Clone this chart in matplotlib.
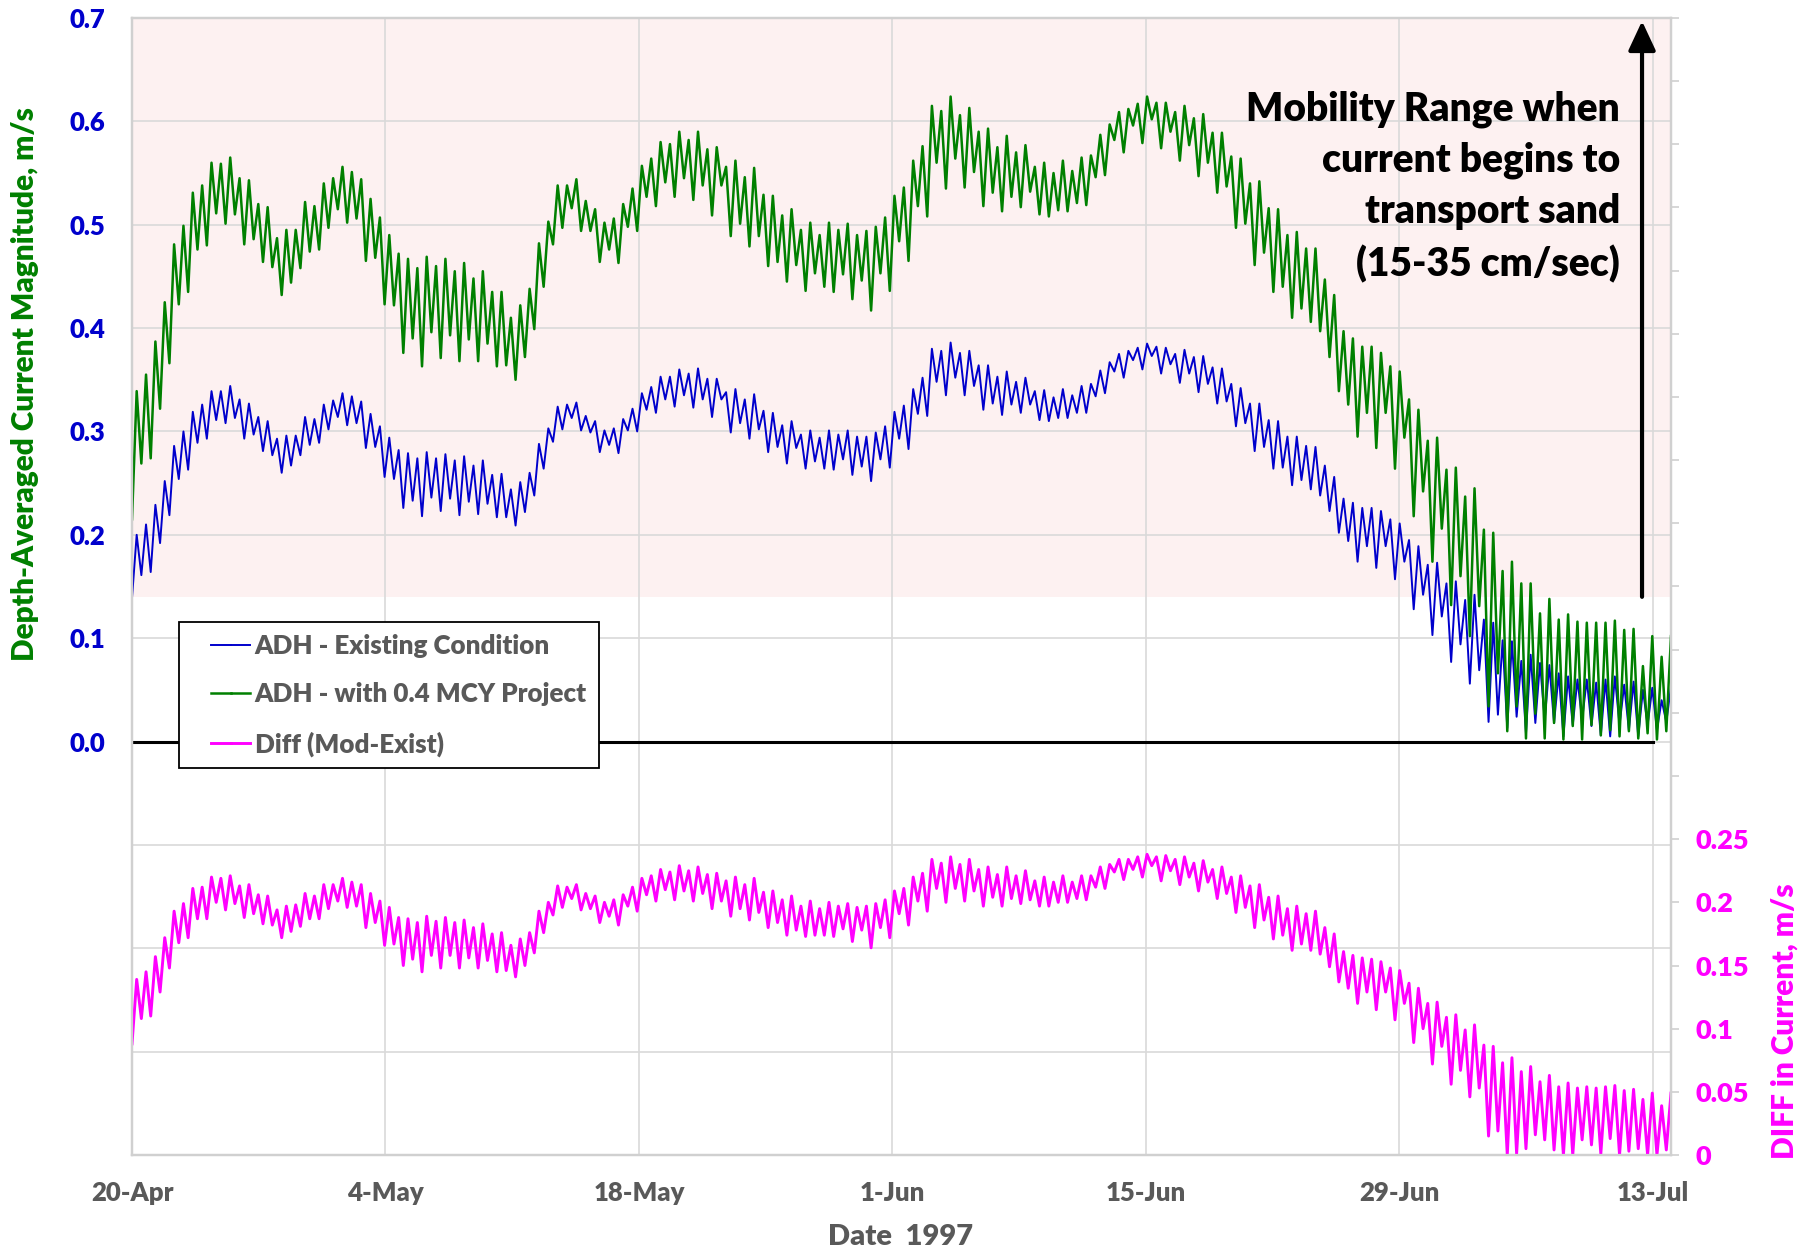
import numpy as np
import matplotlib
matplotlib.use('Agg')
import matplotlib.pyplot as plt
import matplotlib.dates as mdates
from matplotlib.lines import Line2D
from matplotlib.legend_handler import HandlerTuple
from matplotlib.ticker import FuncFormatter, MultipleLocator

plt.rcParams['font.family'] = ['Lato', 'DejaVu Sans']
plt.rcParams['font.weight'] = 'heavy'

# time span of the record (values are successive tidal peaks / troughs)
start = np.datetime64('1997-04-20T00:00')
end = np.datetime64('1997-07-14T00:00')
tick_dates = ['1997-04-20', '1997-05-04', '1997-05-18', '1997-06-01',
              '1997-06-15', '1997-06-29', '1997-07-13']
zero_line_end = '1997-07-13'

labels = ['ADH - Existing Condition', 'ADH - with 0.4 MCY Project', 'Diff (Mod-Exist)']

# ADH - Existing Condition, m/s
existing = [
    0.139, 0.200, 0.161, 0.210, 0.164, 0.229, 0.192, 0.252, 0.219, 0.286,
    0.254, 0.300, 0.263, 0.319, 0.289, 0.326, 0.293, 0.339, 0.311, 0.339,
    0.308, 0.344, 0.313, 0.331, 0.293, 0.327, 0.297, 0.314, 0.281, 0.310,
    0.277, 0.293, 0.260, 0.296, 0.267, 0.296, 0.277, 0.314, 0.287, 0.312,
    0.289, 0.326, 0.302, 0.330, 0.314, 0.337, 0.306, 0.334, 0.308, 0.329,
    0.284, 0.317, 0.285, 0.305, 0.256, 0.294, 0.254, 0.282, 0.226, 0.279,
    0.233, 0.274, 0.218, 0.280, 0.236, 0.274, 0.223, 0.278, 0.235, 0.272,
    0.219, 0.276, 0.232, 0.267, 0.220, 0.272, 0.230, 0.258, 0.217, 0.259,
    0.217, 0.244, 0.209, 0.251,
    0.222, 0.260, 0.238, 0.288, 0.264, 0.303, 0.290, 0.324, 0.302, 0.326,
    0.313, 0.328, 0.301, 0.315, 0.299, 0.310, 0.280, 0.301, 0.287, 0.303,
    0.279, 0.312, 0.301, 0.322, 0.300, 0.337, 0.321, 0.343, 0.318, 0.353,
    0.331, 0.353, 0.324, 0.360, 0.335, 0.356, 0.323, 0.361, 0.331, 0.351,
    0.314, 0.351, 0.331, 0.338, 0.299, 0.341, 0.308, 0.331, 0.293, 0.336,
    0.302, 0.320, 0.280, 0.318, 0.285, 0.306, 0.269, 0.310, 0.284, 0.297,
    0.264, 0.301, 0.271, 0.294, 0.264, 0.301, 0.263, 0.297, 0.273, 0.301,
    0.258, 0.295, 0.266, 0.295, 0.252, 0.299, 0.273, 0.305, 0.265, 0.319,
    0.293, 0.325, 0.283, 0.341,
    0.317, 0.352, 0.315, 0.380, 0.348, 0.378, 0.335, 0.386, 0.352, 0.376,
    0.335, 0.378, 0.344, 0.364, 0.321, 0.364, 0.327, 0.353, 0.316, 0.358,
    0.326, 0.348, 0.318, 0.352, 0.326, 0.339, 0.311, 0.340, 0.310, 0.333,
    0.313, 0.341, 0.313, 0.335, 0.318, 0.344, 0.318, 0.346, 0.334, 0.359,
    0.337, 0.367, 0.358, 0.375, 0.352, 0.378, 0.369, 0.381, 0.360, 0.385,
    0.373, 0.382, 0.356, 0.381, 0.365, 0.375, 0.347, 0.379, 0.356, 0.372,
    0.338, 0.373, 0.346, 0.362, 0.327, 0.361, 0.329, 0.346, 0.305, 0.342,
    0.308, 0.327, 0.281, 0.327, 0.285, 0.311, 0.264, 0.310, 0.265, 0.295,
    0.248, 0.295, 0.253, 0.286,
    0.244, 0.285, 0.238, 0.267, 0.223, 0.256, 0.202, 0.235, 0.194, 0.231,
    0.174, 0.226, 0.189, 0.226, 0.168, 0.223, 0.189, 0.215, 0.157, 0.211,
    0.174, 0.195, 0.128, 0.189, 0.142, 0.171, 0.103, 0.173, 0.121, 0.153,
    0.077, 0.155, 0.094, 0.137, 0.056, 0.142, 0.069, 0.118, 0.019, 0.115,
    0.026, 0.098, 0.013, 0.097, 0.024, 0.078, 0.008, 0.084, 0.018, 0.076,
    0.021, 0.074, 0.018, 0.066, 0.005, 0.063, 0.016, 0.060, 0.021, 0.060,
    0.015, 0.057, 0.006, 0.060, 0.005, 0.063, 0.016, 0.055, 0.011, 0.058,
    0.005, 0.050, 0.016, 0.052, 0.011, 0.040, 0.019, 0.053,
]

# ADH - with 0.4 MCY Project, m/s
project = [
    0.215, 0.339, 0.269, 0.355, 0.274, 0.387, 0.322, 0.425, 0.366, 0.481,
    0.423, 0.499, 0.435, 0.531, 0.476, 0.538, 0.480, 0.560, 0.511, 0.559,
    0.501, 0.565, 0.510, 0.545, 0.481, 0.543, 0.486, 0.520, 0.464, 0.517,
    0.459, 0.487, 0.432, 0.495, 0.444, 0.495, 0.458, 0.522, 0.474, 0.518,
    0.476, 0.540, 0.497, 0.545, 0.515, 0.556, 0.502, 0.551, 0.506, 0.544,
    0.465, 0.525, 0.468, 0.507, 0.423, 0.490, 0.422, 0.472, 0.376, 0.467,
    0.390, 0.458, 0.363, 0.469, 0.396, 0.460, 0.371, 0.467, 0.393, 0.455,
    0.368, 0.463, 0.389, 0.448, 0.368, 0.455, 0.385, 0.435, 0.363, 0.435,
    0.364, 0.410, 0.350, 0.422,
    0.372, 0.438, 0.399, 0.482, 0.440, 0.503, 0.481, 0.538, 0.497, 0.538,
    0.516, 0.544, 0.494, 0.523, 0.494, 0.515, 0.464, 0.502, 0.476, 0.506,
    0.463, 0.520, 0.498, 0.535, 0.494, 0.557, 0.527, 0.564, 0.518, 0.580,
    0.541, 0.578, 0.527, 0.590, 0.545, 0.582, 0.524, 0.590, 0.538, 0.573,
    0.509, 0.575, 0.538, 0.556, 0.489, 0.562, 0.501, 0.546, 0.479, 0.555,
    0.489, 0.529, 0.460, 0.528, 0.464, 0.509, 0.445, 0.515, 0.461, 0.495,
    0.436, 0.502, 0.453, 0.490, 0.440, 0.502, 0.435, 0.495, 0.452, 0.501,
    0.428, 0.490, 0.446, 0.494, 0.417, 0.498, 0.453, 0.507, 0.436, 0.528,
    0.484, 0.536, 0.465, 0.562,
    0.518, 0.576, 0.508, 0.615, 0.560, 0.610, 0.535, 0.624, 0.564, 0.606,
    0.536, 0.613, 0.551, 0.590, 0.518, 0.593, 0.531, 0.575, 0.513, 0.586,
    0.527, 0.570, 0.517, 0.577, 0.532, 0.556, 0.510, 0.560, 0.508, 0.550,
    0.514, 0.562, 0.513, 0.552, 0.521, 0.565, 0.519, 0.567, 0.546, 0.587,
    0.548, 0.597, 0.582, 0.609, 0.570, 0.612, 0.596, 0.617, 0.579, 0.624,
    0.602, 0.618, 0.574, 0.618, 0.590, 0.609, 0.562, 0.615, 0.577, 0.603,
    0.547, 0.607, 0.560, 0.589, 0.531, 0.589, 0.537, 0.566, 0.497, 0.564,
    0.501, 0.540, 0.461, 0.542, 0.473, 0.516, 0.435, 0.515, 0.440, 0.490,
    0.410, 0.493, 0.419, 0.477,
    0.406, 0.477, 0.397, 0.447, 0.372, 0.432, 0.339, 0.397, 0.326, 0.390,
    0.295, 0.382, 0.318, 0.382, 0.284, 0.376, 0.318, 0.363, 0.264, 0.358,
    0.294, 0.331, 0.218, 0.321, 0.242, 0.291, 0.174, 0.294, 0.206, 0.263,
    0.132, 0.265, 0.160, 0.237, 0.102, 0.245, 0.131, 0.205, 0.034, 0.202,
    0.066, 0.165, 0.010, 0.174, 0.034, 0.153, 0.003, 0.153, 0.027, 0.124,
    0.003, 0.138, 0.018, 0.118, 0.002, 0.123, 0.015, 0.116, 0.002, 0.115,
    0.016, 0.115, 0.006, 0.115, 0.011, 0.117, 0.005, 0.108, 0.010, 0.109,
    0.003, 0.073, 0.008, 0.102, 0.002, 0.082, 0.010, 0.102,
]

# Diff (Mod-Exist), m/s, right axis
diff = [
    0.088, 0.139, 0.108, 0.145, 0.110, 0.157, 0.129, 0.172, 0.148, 0.193,
    0.168, 0.199, 0.172, 0.211, 0.187, 0.212, 0.187, 0.220, 0.200, 0.219,
    0.194, 0.221, 0.199, 0.213, 0.188, 0.214, 0.191, 0.206, 0.183, 0.205,
    0.182, 0.194, 0.172, 0.197, 0.177, 0.198, 0.181, 0.207, 0.187, 0.205,
    0.187, 0.214, 0.195, 0.214, 0.201, 0.219, 0.196, 0.216, 0.197, 0.214,
    0.180, 0.207, 0.184, 0.201, 0.166, 0.196, 0.167, 0.188, 0.150, 0.187,
    0.155, 0.184, 0.145, 0.189, 0.158, 0.185, 0.148, 0.188, 0.158, 0.184,
    0.148, 0.186, 0.156, 0.180, 0.148, 0.183, 0.154, 0.175, 0.145, 0.176,
    0.146, 0.166, 0.141, 0.171,
    0.150, 0.176, 0.160, 0.193, 0.176, 0.200, 0.190, 0.213, 0.196, 0.212,
    0.203, 0.214, 0.194, 0.207, 0.195, 0.205, 0.184, 0.200, 0.189, 0.202,
    0.182, 0.206, 0.197, 0.212, 0.193, 0.219, 0.206, 0.221, 0.201, 0.226,
    0.210, 0.224, 0.202, 0.229, 0.209, 0.225, 0.201, 0.228, 0.207, 0.222,
    0.195, 0.223, 0.201, 0.217, 0.189, 0.220, 0.195, 0.214, 0.186, 0.219,
    0.192, 0.208, 0.180, 0.209, 0.184, 0.202, 0.174, 0.205, 0.178, 0.197,
    0.173, 0.201, 0.174, 0.195, 0.174, 0.200, 0.173, 0.197, 0.179, 0.199,
    0.169, 0.196, 0.178, 0.197, 0.164, 0.199, 0.180, 0.202, 0.172, 0.209,
    0.191, 0.211, 0.182, 0.220,
    0.201, 0.223, 0.193, 0.234, 0.211, 0.231, 0.200, 0.236, 0.211, 0.230,
    0.201, 0.234, 0.209, 0.226, 0.197, 0.228, 0.204, 0.222, 0.197, 0.228,
    0.203, 0.221, 0.199, 0.225, 0.202, 0.217, 0.197, 0.220, 0.197, 0.216,
    0.200, 0.221, 0.200, 0.216, 0.203, 0.221, 0.202, 0.221, 0.212, 0.228,
    0.211, 0.230, 0.224, 0.234, 0.218, 0.234, 0.226, 0.236, 0.220, 0.238,
    0.229, 0.236, 0.217, 0.237, 0.225, 0.234, 0.214, 0.236, 0.220, 0.231,
    0.209, 0.233, 0.216, 0.226, 0.203, 0.228, 0.207, 0.220, 0.192, 0.221,
    0.196, 0.213, 0.180, 0.214, 0.186, 0.204, 0.171, 0.205, 0.174, 0.195,
    0.162, 0.197, 0.167, 0.191,
    0.162, 0.193, 0.159, 0.180, 0.149, 0.175, 0.137, 0.161, 0.132, 0.158,
    0.120, 0.156, 0.129, 0.155, 0.115, 0.153, 0.129, 0.148, 0.107, 0.146,
    0.120, 0.136, 0.089, 0.132, 0.100, 0.120, 0.072, 0.121, 0.086, 0.109,
    0.056, 0.111, 0.067, 0.099, 0.046, 0.103, 0.053, 0.087, 0.015, 0.086,
    0.019, 0.073, 0.000, 0.077, 0.001, 0.066, 0.005, 0.070, 0.016, 0.058,
    0.012, 0.063, 0.004, 0.054, 0.000, 0.057, 0.000, 0.053, 0.012, 0.054,
    0.008, 0.053, 0.001, 0.054, 0.013, 0.055, 0.000, 0.051, 0.003, 0.052,
    0.005, 0.044, 0.000, 0.049, 0.000, 0.039, 0.004, 0.049,
]

mobility_low = 0.14
mobility_high = 0.70


def times(n):
    # evenly spaced half-tide steps over the record
    minutes = (end - start) / np.timedelta64(1, 'm')
    return start + np.linspace(0, minutes, n).astype('timedelta64[m]')


c_blue = '#0000CC'
c_green = '#008000'
c_mag = '#FF00FF'
c_gray = '#595959'
c_frame = '#D0D0D0'

fig = plt.figure(figsize=(18.14, 12.52), dpi=100)
ax = fig.add_axes([132 / 1814, 97 / 1252, 1539 / 1814, 1137 / 1252])

ax.axhspan(mobility_low, mobility_high, color='#FDF1F1', lw=0, zorder=0)
l_exist, = ax.plot(times(len(existing)), existing, color=c_blue, lw=1.4, zorder=3)
l_proj, = ax.plot(times(len(project)), project, color=c_green, lw=1.8, zorder=3)
ax.plot([start, np.datetime64(zero_line_end)], [0, 0], color='black', lw=2.2, zorder=2)

ax.set_xlim(start, end)
ax.set_ylim(-0.4, 0.7)
ax.yaxis.set_major_locator(MultipleLocator(0.1))
ax.yaxis.set_major_formatter(FuncFormatter(lambda v, p: f'{abs(v):.1f}' if v > -0.05 else ''))
ax.set_xticks(mdates.date2num(np.array(tick_dates, dtype='datetime64[D]')))
ax.xaxis.set_major_formatter(mdates.DateFormatter('%-d-%b'))
ax.grid(True, color='#D9D9D9', lw=1.2)
ax.set_axisbelow(True)
ax.tick_params(axis='y', length=0, pad=19, labelcolor=c_blue, labelsize=18.5)
ax.tick_params(axis='x', length=0, pad=19, labelcolor=c_gray, labelsize=18.5)

ax2 = ax.twinx()
l_diff, = ax2.plot(times(len(diff)), diff, color=c_mag, lw=2.1)
ax2.set_ylim(0, 0.9)
ax2.yaxis.set_major_locator(MultipleLocator(0.05))
ax2.yaxis.set_major_formatter(FuncFormatter(
    lambda v, p: '0' if abs(v) < 1e-6 else (f'{v:g}' if v < 0.26 else '')))
ax2.tick_params(axis='y', length=6, width=1.2, color=c_frame, direction='out',
                pad=12, labelcolor=c_mag, labelsize=19.5)

for a in (ax, ax2):
    for s in a.spines.values():
        s.set_color(c_frame)
        s.set_linewidth(1.6)

# mobility range annotation
x0 = mdates.date2num(start)
ax.annotate('', xy=(x0 + 83.4, 0.697), xytext=(x0 + 83.4, mobility_low),
            arrowprops=dict(arrowstyle='-|>,head_length=0.6,head_width=0.28',
                            mutation_scale=30, lw=3, color='black',
                            shrinkA=0, shrinkB=0), zorder=5)
fig.text(1620 / 1814, 1 - 90 / 1252,
         'Mobility Range when\ncurrent begins to\ntransport sand\n(15-35 cm/sec)',
         ha='right', va='top', multialignment='right', fontsize=28.1,
         color='black', linespacing=1.47)

# legend with a blank lead-in before each line sample
blank = Line2D([], [], color='none')
leg = ax2.legend([(blank, l_exist, l_exist), (blank, l_proj, l_proj), (blank, l_diff, l_diff)],
                 labels, handler_map={tuple: HandlerTuple(ndivide=None, pad=0)},
                 loc='upper left', bbox_to_anchor=(47 / 1539, 1 - (622 - 18) / 1137),
                 borderaxespad=0, fontsize=18.7, frameon=True, fancybox=False,
                 framealpha=1, edgecolor='black', borderpad=0.45,
                 labelspacing=0.95, handlelength=2.3, handletextpad=0.17)
leg.get_frame().set_linewidth(1.3)
for txt in leg.get_texts():
    txt.set_color(c_gray)

fig.text(25 / 1814, 1 - 384 / 1252, 'Depth-Averaged Current Magnitude, m/s',
         rotation=90, ha='center', va='center', color=c_green, fontsize=21.4)
fig.text(1785 / 1814, 1 - 1021 / 1252, 'DIFF in Current, m/s',
         rotation=90, ha='center', va='center', color=c_mag, fontsize=21.5)
fig.text(901 / 1814, 1 - 1237 / 1252, 'Date  1997',
         ha='center', va='center', color=c_gray, fontsize=21)

fig.savefig('out.png', dpi=100)
